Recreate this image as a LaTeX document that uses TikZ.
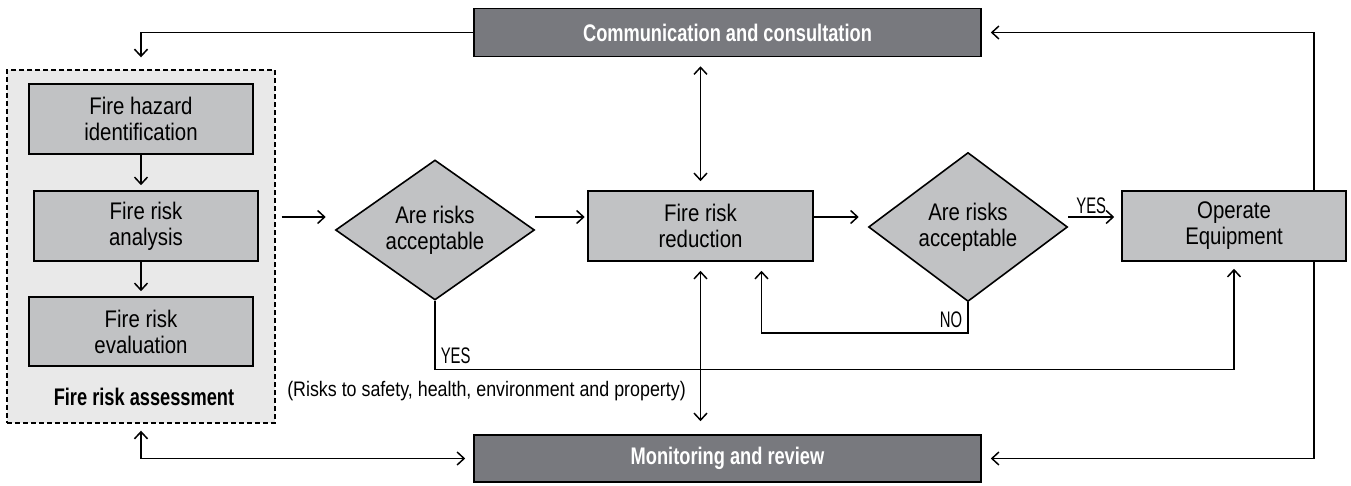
\documentclass[tikz,border=0pt]{standalone}
\usepackage{fontspec}
\setmainfont{Liberation Sans}[FakeStretch=0.85, BoldFeatures={FakeStretch=0.76}]
\newfontfamily\narrowfont{Liberation Sans}[FakeStretch=0.66]
\usetikzlibrary{shapes.geometric, arrows.meta}

\definecolor{barfill}{RGB}{120,121,126}
\definecolor{boxfill}{RGB}{193,194,196}
\definecolor{framefill}{RGB}{233,233,233}
\newcommand{\diagfont}{\fontsize{24}{26}\selectfont}
\newcommand{\notefont}{\fontsize{21}{24}\selectfont}

\begin{document}
\begin{tikzpicture}[
    x=1pt, y=-1pt,
    font=\diagfont,
    >={Straight Barb[length=7pt,width=13pt]},
    proc/.style={draw, line width=1.6pt, fill=boxfill, align=center, minimum width=224pt, minimum height=70pt, inner sep=0pt},
    choice/.style={diamond, draw, line width=1.6pt, fill=boxfill, align=center, aspect=1.4, inner sep=0pt, minimum width=199pt},
    bar/.style={draw, line width=1.6pt, fill=barfill, text=white, font=\diagfont\bfseries, minimum width=507pt, minimum height=48pt},
    arr/.style={line width=1.5pt, ->},
    lbl/.style={font=\narrowfont\fontsize{22.5}{24}\selectfont, inner sep=5pt}
  ]

  \useasboundingbox (0,0) rectangle (1351,486);

  % assessment block
  \node[draw, dash pattern=on 5pt off 3pt, line width=1.4pt, fill=framefill, minimum width=268pt, minimum height=353pt] (frame) at (141,246.5) {};
  \node[proc] (hazard) at (141,119) {Fire hazard\\identification};
  \node[proc] (analysis) at (146,226) {Fire risk\\analysis};
  \node[proc, minimum height=69pt] (evaluation) at (141,331.5) {Fire risk\\evaluation};
  \node[font=\diagfont\bfseries] (assess) at (144,397) {Fire risk assessment};

  % bars
  \node[bar] (comm) at (727.5,32.5) {Communication and consultation};
  \node[bar, minimum height=47pt] (monit) at (727.5,458.5) {Monitoring and review};

  % main row
  \node[choice, minimum height=140pt] (dia1) at (435,230) {Are risks\\acceptable};
  \node[proc, minimum width=225pt] (reduction) at (700.5,226) {Fire risk\\reduction};
  \node[choice, minimum height=149pt] (dia2) at (968,227) {Are risks\\acceptable};
  \node[proc] (operate) at (1234,226) {Operate\\Equipment};
  \node[font=\notefont] (risks) at (486.5,391) {(Risks to safety, health, environment and property)};

  \coordinate (row) at (0,217);
  \coordinate (yesrow) at (0,369.5);
  \coordinate (noturn) at (761.5,333);

  \draw[arr] (hazard.south) -- ([yshift=5pt]hazard.south |- analysis.north);
  \draw[arr] (hazard.south |- analysis.south) -- ([yshift=5pt]hazard.south |- evaluation.north);

  \draw[arr] (comm.west) -| ([yshift=12pt]frame.north);
  \draw[arr, <->] ([yshift=-7pt]frame.south) |- ([xshift=-8pt]monit.west);

  \draw[arr] ([xshift=6pt]frame.east |- row) -- ([xshift=-9pt]dia1.west |- row);
  \draw[arr] (dia1.east |- row) -- ([xshift=-2.5pt]reduction.west |- row);
  \draw[arr] (reduction.east |- row) -- ([xshift=-9pt]dia2.west |- row);
  \draw[arr] (dia2.east |- row) -- node[lbl, above, inner sep=3pt] {YES} ([xshift=-7pt]operate.west |- row);

  \draw[arr, <->] ([yshift=-9pt]reduction.north |- comm.south) -- ([yshift=9pt]reduction.north);
  \draw[arr, <->] ([yshift=-9pt]reduction.south) -- ([yshift=13pt]reduction.south |- monit.north);

  \draw[arr] (dia2.south) |- node[lbl, above left] {NO} (noturn) -- ([yshift=-9pt]reduction.south -| noturn);
  \draw[arr] (dia1.south) |- node[lbl, above right] {YES} (operate.south |- yesrow) -- ([yshift=-7pt]operate.south);

  \draw[arr] ([xshift=80pt]operate.north) |- ([xshift=9pt]comm.east);
  \draw[arr] ([xshift=80pt]operate.south) |- ([xshift=9pt]monit.east);

\end{tikzpicture}
\end{document}
